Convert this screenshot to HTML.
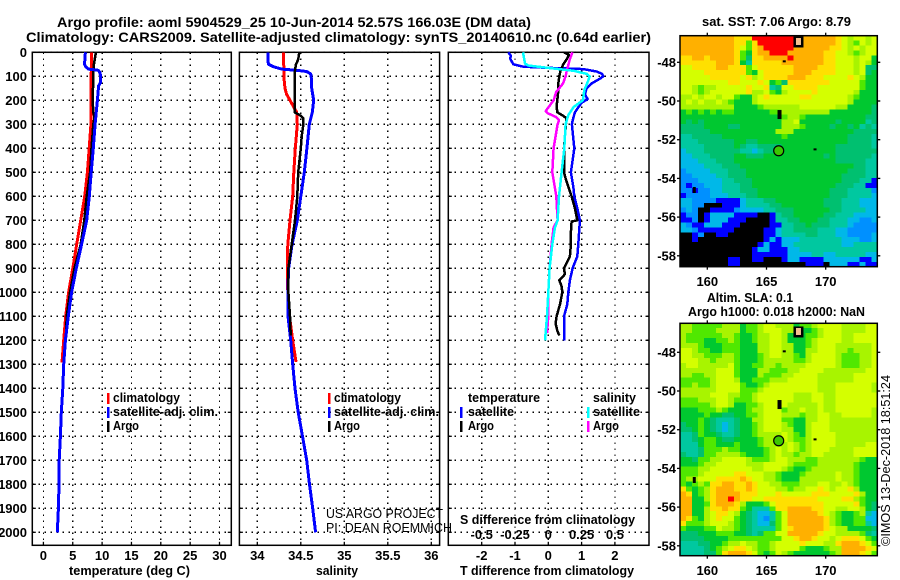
<!DOCTYPE html>
<html>
<head>
<meta charset="utf-8">
<title>Argo profile</title>
<style>
html,body{margin:0;padding:0;background:#fff;}
svg{display:block;}
text{font-family:"Liberation Sans",sans-serif;fill:#000;}
.b{font-weight:bold;font-size:13px;}
.t{font-weight:bold;font-size:14px;}
.r{font-weight:normal;font-size:13px;}
</style>
</head>
<body>
<svg id="chart" xmlns="http://www.w3.org/2000/svg" width="900" height="580" viewBox="0 0 900 580">
<rect x="0" y="0" width="900" height="580" fill="#fff"/>
<text class="t" x="57" y="27" textLength="474" lengthAdjust="spacingAndGlyphs">Argo profile: aoml 5904529_25 10-Jun-2014 52.57S 166.03E (DM data)</text>
<text class="t" x="26" y="42" textLength="625" lengthAdjust="spacingAndGlyphs">Climatology: CARS2009. Satellite-adjusted climatology: synTS_20140610.nc (0.64d earlier)</text>
<g id="panels"></g>
<g id="maps"></g>

<text class="b" x="69" y="575" textLength="121" lengthAdjust="spacingAndGlyphs">temperature (deg C)</text>
<text class="b" x="316" y="575" textLength="42" lengthAdjust="spacingAndGlyphs">salinity</text>
<text class="b" x="460" y="575" textLength="174" lengthAdjust="spacingAndGlyphs">T difference from climatology</text>
<text class="b" x="460" y="524" textLength="175" lengthAdjust="spacingAndGlyphs">S difference from climatology</text>

<g>
<rect x="107" y="393" width="2.5" height="11" fill="#f00"/>
<text class="b" x="113" y="402" textLength="67" lengthAdjust="spacingAndGlyphs">climatology</text>
<rect x="107" y="407" width="2.5" height="11" fill="#00f"/>
<text class="b" x="113" y="416" textLength="105" lengthAdjust="spacingAndGlyphs">satellite-adj. clim.</text>
<rect x="107" y="421" width="2.5" height="11" fill="#000"/>
<text class="b" x="113" y="430" textLength="26" lengthAdjust="spacingAndGlyphs">Argo</text>
</g>
<g>
<rect x="328" y="393" width="2.5" height="11" fill="#f00"/>
<text class="b" x="334" y="402" textLength="67" lengthAdjust="spacingAndGlyphs">climatology</text>
<rect x="328" y="407" width="2.5" height="11" fill="#00f"/>
<text class="b" x="334" y="416" textLength="105" lengthAdjust="spacingAndGlyphs">satellite-adj. clim.</text>
<rect x="328" y="421" width="2.5" height="11" fill="#000"/>
<text class="b" x="334" y="430" textLength="26" lengthAdjust="spacingAndGlyphs">Argo</text>
</g>
<g>
<text class="b" x="468" y="402" textLength="72" lengthAdjust="spacingAndGlyphs">temperature</text>
<rect x="460" y="407" width="2.5" height="11" fill="#00f"/>
<text class="b" x="468" y="416" textLength="46" lengthAdjust="spacingAndGlyphs">satellite</text>
<rect x="460" y="421" width="2.5" height="11" fill="#000"/>
<text class="b" x="468" y="430" textLength="26" lengthAdjust="spacingAndGlyphs">Argo</text>
<text class="b" x="593" y="402" textLength="43" lengthAdjust="spacingAndGlyphs">salinity</text>
<rect x="587" y="407" width="2.5" height="11" fill="#0ff"/>
<text class="b" x="593" y="416" textLength="47" lengthAdjust="spacingAndGlyphs">satellite</text>
<rect x="587" y="421" width="2.5" height="11" fill="#f0f"/>
<text class="b" x="593" y="430" textLength="26" lengthAdjust="spacingAndGlyphs">Argo</text>
</g>

<text class="r" x="326" y="518" textLength="117" lengthAdjust="spacingAndGlyphs">US ARGO PROJECT</text>
<text class="r" x="326" y="532" textLength="126" lengthAdjust="spacingAndGlyphs">PI: DEAN ROEMMICH</text>

<text class="b" x="702" y="26" textLength="149" lengthAdjust="spacingAndGlyphs">sat. SST: 7.06 Argo: 8.79</text>
<text class="b" x="707" y="302" textLength="86" lengthAdjust="spacingAndGlyphs">Altim. SLA: 0.1</text>
<text class="b" x="688" y="316" textLength="177" lengthAdjust="spacingAndGlyphs">Argo h1000: 0.018 h2000: NaN</text>
<text class="r" transform="translate(890,546) rotate(-90)" x="0" y="0" textLength="171" lengthAdjust="spacingAndGlyphs">©IMOS 13-Dec-2018 18:51:24</text>
</svg>

<script>
// ---- profile axes tick values ----
const depthTicks = [0,100,200,300,400,500,600,700,800,900,1000,1100,1200,1300,1400,1500,1600,1700,1800,1900,2000];
const tempTicks = [0,5,10,15,20,25,30];
const salTicks = [34,34.5,35,35.5,36];
const diffTicks = [-2,-1,0,1,2];
const sDiffTicks = [-0.5,-0.25,0,0.25,0.5];
const sDiffLabels = ['-0.5','-0.25','0','0.25','0.5'];

// ---- temperature panel ----
const tClimDepth = [0,100,300,400,500,600,700,800,900,1000,1100,1200,1292];
const tClimValue = [8.2,8.15,8.1,7.8,7.5,7.03,6.35,5.67,5.0,4.3,3.8,3.46,3.17];
const tSatDepth = [0,50,60,70,75,85,100,125,140,200,300,400,500,600,700,800,900,1000,1100,1200,1300,1400,1500,1600,1700,1800,1900,2000];
const tSatValue = [7.15,7.0,7.2,7.7,9.35,9.65,9.75,9.75,9.4,9.2,8.8,8.5,8.15,7.82,7.37,6.5,5.6,4.8,4.25,3.75,3.46,3.3,3.05,2.9,2.7,2.65,2.55,2.37];
const tArgoDepth = [0,50,75,100,200,250,270,300,400,500,600,700,800,900,1000,1100,1180];
const tArgoValue = [8.95,8.6,8.5,8.5,8.4,8.5,8.7,8.5,8.2,7.95,7.37,6.97,6.35,5.3,4.53,3.97,3.85];

// ---- salinity panel ----
const sClimDepth = [0,100,150,175,200,225,250,300,400,500,600,700,800,900,1000,1100,1200,1290];
const sClimValue = [34.303,34.305,34.318,34.337,34.376,34.414,34.453,34.46,34.437,34.42,34.407,34.376,34.35,34.345,34.35,34.37,34.407,34.445];
const sSatDepth = [0,40,50,60,70,75,80,90,100,150,200,250,300,400,500,600,700,800,900,1000,1100,1200,1300,1400,1500,1600,1700,1800,1900,2000];
const sSatValue = [34.123,34.123,34.13,34.184,34.28,34.45,34.568,34.614,34.62,34.625,34.648,34.632,34.598,34.57,34.54,34.5,34.46,34.40,34.36,34.35,34.353,34.384,34.407,34.433,34.47,34.52,34.568,34.6,34.637,34.67];
const sArgoDepth = [0,30,50,75,200,250,262,275,300,350,400,500,600,700,800,900,1000,1100,1180];
const sArgoValue = [34.483,34.47,34.445,34.433,34.43,34.43,34.49,34.53,34.53,34.51,34.5,34.47,34.46,34.433,34.395,34.357,34.357,34.376,34.384];

// ---- difference panel ----
const dTSatDepth = [0,15,26,40,50,60,65,70,80,90,100,110,130,150,175,195,210,250,285,300,400,500,560,600,650,700,800,850,900,950,1000,1050,1100,1200];
const dTSatValue = [-1.20,-1.12,-1.15,-1.09,-1.05,-0.75,0.05,1.05,1.45,1.62,1.65,1.55,1.30,1.15,1.10,1.18,1.00,0.80,0.73,0.71,0.78,0.68,0.75,0.78,0.87,0.95,0.90,0.87,0.73,0.65,0.60,0.57,0.47,0.47];
const dTArgoDepth = [0,10,30,50,75,100,130,160,200,225,250,265,275,300,400,500,530,600,650,700,705,750,800,850,900,925,950,975,1000,1050,1100,1130,1160,1180];
const dTArgoValue = [0.47,0.62,0.55,0.45,0.37,0.33,0.30,0.30,0.27,0.25,0.27,0.45,0.55,0.53,0.47,0.47,0.53,0.70,0.80,0.87,0.70,0.68,0.68,0.65,0.47,0.50,0.33,0.40,0.42,0.35,0.25,0.22,0.27,0.33];
const dSArgoDepth = [0,33,75,100,130,165,200,230,246,255,270,283,300,400,500,600,700,730,800,900,1000,1100,1170];
const dSArgoValue = [0.18,0.16,0.14,0.13,0.11,0.06,0.04,0,-0.02,0,0.06,0.08,0.07,0.04,0.03,0.06,0.07,0.04,0.025,0.01,0,0,-0.01];
const dSSatDepth = [0,47,55,65,77,90,100,117,158,200,228,262,300,400,500,600,700,730,800,900,1000,1100,1200];
const dSSatValue = [-0.19,-0.175,-0.15,0,0.19,0.29,0.31,0.30,0.27,0.26,0.19,0.15,0.13,0.12,0.10,0.08,0.07,0.05,0.03,0.01,0,-0.01,-0.025];

// ---- map data: one digit/letter per grid cell, indexing mapPalette ----
const mapPalette = ['#000000','#0000ff','#0090ff','#00b8e8','#00c8a0','#00c070','#00c830','#50e800','#a8f400','#d4ff00','#ffe000','#ffb000','#ff0000'];
const mapLevels = '0123456789ABC';
const lonTicks = [160,165,170];
const latTicks = [-48,-50,-52,-54,-56,-58];
const sstRows = [
"BBBBBBBBBAAACCCCCCCBBBBBBBA989989",
"BBBBBBBBBAA7ACCCCCCCBBBBBBA987989",
"BBBBBBBBBA97ABCCCCCBBBBBBAA989899",
"BBBBBBBBBA76ABBCCCBBBBBBAA9987899",
"AABBABBBBA75AABBBBCBBBBBAA9998996",
"AAAAAABBBA64AAAAABBBBBBBAA9998986",
"99AAAABBAAA79AAAAAABBBBAAA9998955",
"9999AAAAAAA769AAAAABBBAAAA9998956",
"99999AAAAA9A89AAAABBBAAA9999A9866",
"99999999AA999A9675AAAAAAA99999766",
"99878899999A99A4599AAAA9999999766",
"99878999999A8897689999A9999998666",
"88989989976689A99999AA99999987666",
"898988987666899999999999999986666",
"888888888666678888889999998866665",
"676767677666666778888888866666665",
"666666666666666667887666666666655",
"656566666666666668896666665666645",
"555566665566666668887666656656454",
"555556666666666688866666666665555",
"445555566666666667666666666655554",
"444555555665566666666666666655554",
"444455555654455556666666665555554",
"344455555544345566666666665555555",
"334445555665556666666666565555554",
"333444555666666666666666665555544",
"333344455566666666666666666665544",
"233334445556666666666666666655544",
"223333445556666666666666666555544",
"222333344555666666666666666555441",
"212233344455666666666666665554411",
"221223344455566666666666655544442",
"122223334445566666666666655544443",
"332222111134445566666666555444333",
"332200011134444556666666555444333",
"232001111233334455566666655444433",
"122013333111100145566666554443333",
"112013331110000144556665544433223",
"321133311100000114455655544432222",
"332111111000001134455554443322222",
"001200110000001134444554443322223",
"001000000000001313334444444333223",
"000000000000013113344444444334444",
"000000000000133111334444444444444",
"000000000000111111333344334444433",
"000000001100110001331111333333113",
"000000001100000000000111033311311"
];
const slaRows = [
"887777788867789988867789999888899",
"887777888867789998866678999888899",
"877777788766788998666778999889999",
"877766778766788998666789999889999",
"888766677766688998866789998888889",
"998776677766688998866889998878889",
"998877788766678998876899998777889",
"999887888766678888877899998777889",
"899888889766778878888999998777889",
"888888999766688777889999888888899",
"887788999766687778899998888889999",
"777778999866777888999998888889999",
"778778999976678999999998889999998",
"888888999977789999999998889999998",
"888889998877899999988899889999999",
"777888998777899999988899889999999",
"777778998667789999888889889999999",
"666777876667889997889889889999998",
"666676655667789998887889988999998",
"666765444566889997766889988888888",
"566765434566789998766899988888888",
"556765434566789998866899988888888",
"445766544566788889876899998888888",
"445677655666678889877899998888888",
"444677666766678888987899998888899",
"444577787766667898987899988889999",
"544577888876667898878899888889999",
"665778899998777899888778888888766",
"666788999998889999877778888887666",
"777889999999889998766788888887666",
"777899999AA9998876667888889887666",
"788999AAAABA998876668888889887666",
"76787AABBAABA99887778889988987666",
"A7678ABBBAABA9998878899A9899A8666",
"BA678ABBBBAAA999A99999AAA9999A866",
"BB668ABBCBAA99AAAAAAAAA9999AA8766",
"BB667ABBBA866679AAAAAAAA99999A765",
"BB668AABAA764447AABBBBAA998899865",
"BB6689AA9865433479BBBBBA987667843",
"BA7689A99765432479BBBBBBA87667733",
"A77789998765433579BBBBBBA87667743",
"766677988765444479ABBBBBA98866665",
"555666777665457799BBBBBA998888754",
"5555666677777777799ABBA9989AAA976",
"44455667889887789999A99988ABBBA97",
"444456789AA9877899997666788BBBBA9",
"4444557ABBBA976798766666678BBBA97"
];

// ---- small land features, lon/lat ----
const islandLon = [166.1,169.1,158.9,166.5,167.7];
const islandLat = [-50.7,-52.5,-54.6,-47.95,-46.95];
const markerLon = [166.03];
const markerLat = [-52.57];

// ---- axis functions ----
const yD = d => 52.3 + 0.24 * d;
const xT = v => 43.4 + 5.87 * v;
const xS = v => 257.3 + 87 * (v - 34);
const xDT = v => 548.3 + 33.3 * v;
const xDS = v => 548.3 + 133.2 * v;

const NS = 'http://www.w3.org/2000/svg';
const panelsG = document.getElementById('panels');
const mapsG = document.getElementById('maps');

function mk(tag, parent, attrs, txt) {
  const e = document.createElementNS(NS, tag);
  for (const k in attrs) e.setAttribute(k, attrs[k]);
  if (txt !== undefined) e.textContent = txt;
  parent.appendChild(e);
  return e;
}

function drawPanel(name, left, right, xFn, xTicks, xLabels, showDepth) {
  const top = 52.3, bottom = 545.3;
  const g = mk('g', panelsG, {});
  
  
  depthTicks.forEach(d => {
    const gl = mk('line', g, {x1:left, x2:right, y1:yD(d), y2:yD(d), stroke:'#000', 'stroke-width':1.3, 'stroke-dasharray':'1.5 4.5', 'shape-rendering':'crispEdges'});
    
    
    const t1 = mk('line', g, {x1:left, x2:left+3.5, y1:yD(d), y2:yD(d), stroke:'#000', 'stroke-width':1.3});
    
    
    const t2 = mk('line', g, {x1:right-3.5, x2:right, y1:yD(d), y2:yD(d), stroke:'#000', 'stroke-width':1.3});
    
    
    if (showDepth) {
      const lb = mk('text', g, {x:27, y:yD(d)+4.5, 'text-anchor':'end', class:'b'}, String(d));
      
      
    }
  });
  xTicks.forEach((v, i) => {
    const x = xFn(v);
    const gl = mk('line', g, {x1:x, x2:x, y1:top, y2:bottom, stroke:'#000', 'stroke-width':1.3, 'stroke-dasharray':'1.5 4.5', 'shape-rendering':'crispEdges'});
    
    
    const t = mk('line', g, {x1:x, x2:x, y1:bottom-3.5, y2:bottom, stroke:'#000', 'stroke-width':1.3});
    
    
    const lb = mk('text', g, {x:x, y:560, 'text-anchor':'middle', class:'b'}, String(xLabels[i]));
    
    
  });
  const box = mk('rect', g, {x:left, y:top, width:right-left, height:bottom-top, fill:'none', stroke:'#000', 'stroke-width':1.5});
  
  
  return g;
}

function drawLine(parent, name, depths, values, xFn, color, w) {
  const pts = depths.map((d, i) => xFn(values[i]).toFixed(1) + ',' + yD(d).toFixed(1)).join(' ');
  const pl = mk('polyline', parent, {points:pts, fill:'none', stroke:color, 'stroke-width':w, 'stroke-linejoin':'round', 'shape-rendering':'crispEdges'});
  
  
}

const p1 = drawPanel('temperature-panel', 32.3, 231.3, xT, tempTicks, tempTicks, true);
drawLine(p1, 'temperature-climatology-line', tClimDepth, tClimValue, xT, '#f00', 3);
drawLine(p1, 'temperature-argo-line', tArgoDepth, tArgoValue, xT, '#000', 2.5);
drawLine(p1, 'temperature-satellite-line', tSatDepth, tSatValue, xT, '#00f', 3);

const p2 = drawPanel('salinity-panel', 239.4, 439.6, xS, salTicks, salTicks, false);
drawLine(p2, 'salinity-climatology-line', sClimDepth, sClimValue, xS, '#f00', 3);
drawLine(p2, 'salinity-satellite-line', sSatDepth, sSatValue, xS, '#00f', 3);
drawLine(p2, 'salinity-argo-line', sArgoDepth, sArgoValue, xS, '#000', 2.5);

const p3 = drawPanel('difference-panel', 448.3, 649, xDT, diffTicks, diffTicks, false);
drawLine(p3, 'difference-t-satellite-line', dTSatDepth, dTSatValue, xDT, '#00f', 2.5);
drawLine(p3, 'difference-t-argo-line', dTArgoDepth, dTArgoValue, xDT, '#000', 2.5);
drawLine(p3, 'difference-s-argo-line', dSArgoDepth, dSArgoValue, xDS, '#f0f', 2.5);
drawLine(p3, 'difference-s-satellite-line', dSSatDepth, dSSatValue, xDS, '#0ff', 2.5);
sDiffTicks.forEach((v, i) => {
  const lb = mk('text', p3, {x:xDS(v), y:539, 'text-anchor':'middle', class:'b'}, sDiffLabels[i]);
  
  
});

function drawMap(name, rows, left, right, top, bottom, lat48y, labelY) {
  const xLon = lon => 707.3 + 11.84 * (lon - 160);
  const yLat = lat => lat48y + 19.35 * (-48 - lat);
  const g = mk('g', mapsG, {});
  
  
  const cw = (right - left) / 33, ch = (bottom - top) / rows.length;
  rows.forEach((row, r) => {
    for (let c = 0; c < 33 && c < row.length; c++) {
      const cell = mk('rect', g, {x:(left + c*cw).toFixed(2), y:(top + r*ch).toFixed(2), width:(cw+0.5).toFixed(2), height:(ch+0.5).toFixed(2), fill:mapPalette[mapLevels.indexOf(row[c])], 'shape-rendering':'crispEdges'});
      
      
    }
  });
  islandLon.forEach((lon, i) => {
    const big = i === 4;
    const w = big ? 10 : (i === 0 ? 4 : 3), h = big ? 11 : (i === 0 ? 9 : (i === 2 ? 6 : 2));
    const isl = mk('rect', g, {x:xLon(lon)-w/2, y:yLat(islandLat[i])-h/2, width:w, height:h, fill:'#000'});
    
    
    if (big) {
      const inner = mk('rect', g, {x:xLon(lon)-2.5, y:yLat(islandLat[i])-4, width:5, height:7, fill:'#f5c090'});
      
      
    }
  });
  const mc = mk('circle', g, {cx:xLon(markerLon[0]), cy:yLat(markerLat[0]), r:5, fill:'#3cc800', stroke:'#000', 'stroke-width':1.2});
  
  
  const box = mk('rect', g, {x:left, y:top, width:right-left, height:bottom-top, fill:'none', stroke:'#000', 'stroke-width':1.5});
  
  
  lonTicks.forEach(lon => {
    const x = xLon(lon);
    const tk = mk('line', g, {x1:x, x2:x, y1:top-3, y2:top, stroke:'#000', 'stroke-width':1.3});
    
    
    const tk2 = mk('line', g, {x1:x, x2:x, y1:bottom, y2:bottom+3, stroke:'#000', 'stroke-width':1.3});
    
    
    const lb = mk('text', g, {x:x, y:labelY, 'text-anchor':'middle', class:'b'}, String(lon));
    
    
  });
  latTicks.forEach(lat => {
    const y = yLat(lat);
    const tk = mk('line', g, {x1:left-3, x2:left, y1:y, y2:y, stroke:'#000', 'stroke-width':1.3});
    
    
    const tk2 = mk('line', g, {x1:right, x2:right+3, y1:y, y2:y, stroke:'#000', 'stroke-width':1.3});
    
    
    const lb = mk('text', g, {x:left-4, y:y+4.5, 'text-anchor':'end', class:'b'}, String(lat));
    
    
  });
}

drawMap('sst-map', sstRows, 680, 877.3, 35.7, 266.7, 62.3, 286);
drawMap('sla-map', slaRows, 680, 877.3, 323.3, 555.7, 352.3, 575);
</script>
</body>
</html>
